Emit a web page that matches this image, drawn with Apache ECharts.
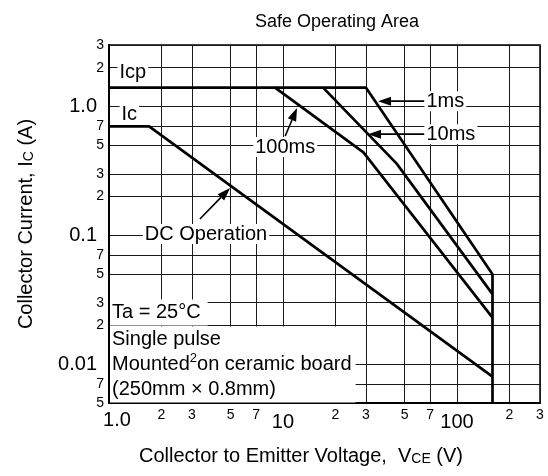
<!DOCTYPE html>
<html>
<head>
<meta charset="utf-8">
<script src="https://cdn.jsdelivr.net/npm/echarts@6/dist/echarts.min.js"></script>
<style>html,body{margin:0;padding:0;background:#fff}#main{width:548px;height:476px}</style>
</head>
<body>
<div id="main"></div>
<script>
// ---- data ----
const xTickValues = [1, 2, 3, 5, 7, 10, 20, 30, 50, 70, 100, 200, 300];
const xTickLabels = ['1.0', '2', '3', '5', '7', '10', '2', '3', '5', '7', '100', '2', '3'];
const yTickValues = [0.005, 0.007, 0.01, 0.02, 0.03, 0.05, 0.07, 0.1, 0.2, 0.3, 0.5, 0.7, 1, 2, 3];
const yTickLabels = ['5', '7', '0.01', '2', '3', '5', '7', '0.1', '2', '3', '5', '7', '1.0', '2', '3'];

const dcVce = [1, 1.7, 160];
const dcIc = [0.7, 0.7, 0.008];
const ms1Vce = [1, 30, 160, 160];
const ms1Ic = [1.4, 1.4, 0.05, 0.005];
const ms10Vce = [17, 45, 160];
const ms10Ic = [1.4, 0.36, 0.035];
const ms100Vce = [9, 29, 160];
const ms100Ic = [1.4, 0.44, 0.023];

const FONT = '"Liberation Sans", Arial, sans-serif';

function pairs(xs, ys) { return xs.map((x, k) => [x, ys[k]]); }
function lookup(vals, labels, v) {
  for (let k = 0; k < vals.length; k++) {
    if (Math.abs(Math.log10(v) - Math.log10(vals[k])) < 1e-6) return labels[k];
  }
  return '';
}

const chart = echarts.init(document.getElementById('main'), null, {renderer: 'canvas'});

function lineSeries(name, xs, ys) {
  return {
    name: name, type: 'line', data: pairs(xs, ys), showSymbol: false, symbol: 'none',
    lineStyle: {color: '#000', width: 2.7}, z: 5, silent: true
  };
}

const option = {
  animation: false,
  backgroundColor: '#fff',
  textStyle: {fontFamily: FONT},
  title: {
    text: 'Safe Operating Area', left: 250, top: 8,
    textStyle: {fontSize: 18, fontWeight: 'normal', color: '#000', fontFamily: FONT}
  },
  grid: {left: 109, top: 45, right: 8, bottom: 73, show: true, borderColor: '#000', borderWidth: 1.5,
         containLabel: false, outerBoundsMode: 'none'},
  xAxis: {
    type: 'log', logBase: 10, min: 1, max: 300,
    name: 'Collector to Emitter Voltage,  V{sub|CE} (V)',
    nameLocation: 'middle', nameGap: 43,
    nameTextStyle: {fontSize: 20, color: '#000', fontFamily: FONT, padding: [0, 47, 0, 0],
      rich: {sub: {fontSize: 14, fontFamily: FONT, color: '#000', verticalAlign: 'bottom'}}},
    axisLine: {show: true, lineStyle: {color: '#000', width: 2}},
    axisTick: {show: false, customValues: xTickValues},
    splitLine: {show: true, lineStyle: {color: '#1a1a1a', width: 1}},
    minorTick: {show: false}, minorSplitLine: {show: false},
    axisLabel: {
      customValues: xTickValues, margin: 5, color: '#000',
      formatter: function (v) {
        const t = lookup(xTickValues, xTickLabels, v);
        if (t === '1.0') return '{first|' + t + '}';
        return t.length > 1 ? '{big|' + t + '}' : '{small|' + t + '}';
      },
      rich: {
        first: {fontSize: 20, fontFamily: FONT, color: '#000', padding: [2, 0, 0, 16]},
        big: {fontSize: 20, fontFamily: FONT, color: '#000', padding: [4, 0, 0, 0]},
        small: {fontSize: 14, fontFamily: FONT, color: '#000', padding: [0, 0, 8, 0]}
      }
    }
  },
  yAxis: {
    type: 'log', logBase: 10, min: 0.005, max: 3,
    name: 'Collector Current, I{sub|C} (A)',
    nameLocation: 'middle', nameGap: 73,
    nameTextStyle: {fontSize: 20, color: '#000', fontFamily: FONT,
      rich: {sub: {fontSize: 14, fontFamily: FONT, color: '#000', verticalAlign: 'bottom'}}},
    axisLine: {show: true, lineStyle: {color: '#000', width: 2}},
    axisTick: {show: false, customValues: yTickValues},
    splitLine: {show: true, lineStyle: {color: '#1a1a1a', width: 1}},
    minorTick: {show: false}, minorSplitLine: {show: false},
    axisLabel: {
      customValues: yTickValues, margin: 5, color: '#000',
      formatter: function (v) {
        const t = lookup(yTickValues, yTickLabels, v);
        return t.length > 1 ? '{big|' + t + '}' : '{small|' + t + '}';
      },
      rich: {
        big: {fontSize: 20, fontFamily: FONT, color: '#000', padding: [0, 7, 0, 0]},
        small: {fontSize: 14, fontFamily: FONT, color: '#000'}
      }
    }
  },
  series: [
    lineSeries('DC Operation', dcVce, dcIc),
    lineSeries('1ms', ms1Vce, ms1Ic),
    lineSeries('10ms', ms10Vce, ms10Ic),
    lineSeries('100ms', ms100Vce, ms100Ic)
  ]
};
chart.setOption(option);

// ---- annotations (anchored in data space) ----
function px(v, i) { return chart.convertToPixel({gridIndex: 0}, [v, i]); }
const annotations = [
  {text: 'Icp', at: [1.12, 1.82], align: 'left'},
  {text: 'Ic', at: [1.15, 0.86], align: 'left'},
  {text: '100ms', at: [10.3, 0.484], align: 'center', from: [10.3, 0.59], to: [12.04, 0.972]},
  {text: '1ms', at: [65, 1.10], align: 'left', from: [65, 1.10], to: [35.2, 1.10]},
  {text: '10ms', at: [65, 0.61], align: 'left', from: [65, 0.61], to: [30.8, 0.61]},
  {text: 'DC Operation', at: [3.61, 0.1023], align: 'center', from: [3.33, 0.1338], to: [4.96, 0.2326]}
];
const g = [];
annotations.forEach(function (a) {
  if (a.from) {
    const p1 = px(a.from[0], a.from[1]);
    const p2 = px(a.to[0], a.to[1]);
    const dx = p2[0] - p1[0], dy = p2[1] - p1[1];
    const L = Math.sqrt(dx * dx + dy * dy);
    const ux = dx / L, uy = dy / L;
    const hl = 13, hw = 4.5;
    const bx = p2[0] - ux * hl, by = p2[1] - uy * hl;
    g.push({type: 'line', z: 100, silent: true,
      shape: {x1: p1[0], y1: p1[1], x2: bx, y2: by}, style: {stroke: '#000', lineWidth: 1.6}});
    g.push({type: 'polygon', z: 100, silent: true,
      shape: {points: [[p2[0], p2[1]], [bx - uy * hw, by + ux * hw], [bx + uy * hw, by - ux * hw]]},
      style: {fill: '#000'}});
  }
  const p = px(a.at[0], a.at[1]);
  g.push({type: 'text', z: 101, silent: true, x: p[0], y: p[1],
    style: {text: a.text, fontSize: 20, fontFamily: FONT, fill: '#000',
      align: a.align, textAlign: a.align, verticalAlign: 'middle', textVerticalAlign: 'middle',
      backgroundColor: '#fff', padding: [0, 2, 0, 2]}});
});
// condition notes, anchored to the 0.02 A grid line
const n0 = px(1, 0.02);
g.push({type: 'text', z: 101, silent: true, x: n0[0] + 1, y: n0[1],
  style: {text: 'Ta = 25°C', fontSize: 20, fontFamily: FONT, fill: '#000', lineHeight: 22,
    align: 'left', textAlign: 'left', verticalAlign: 'bottom', textVerticalAlign: 'bottom',
    backgroundColor: '#fff', padding: [2, 7, 2, 2]}});
g.push({type: 'text', z: 101, silent: true, x: n0[0] + 1, y: n0[1] + 1,
  style: {text: 'Single pulse\nMounted{sup|2}on ceramic board\n(250mm × 0.8mm)',
    fontSize: 20, fontFamily: FONT, fill: '#000', lineHeight: 25,
    rich: {sup: {fontSize: 13, fontFamily: FONT, fill: '#000', color: '#000', verticalAlign: 'top', lineHeight: 25}},
    align: 'left', textAlign: 'left', verticalAlign: 'top', textVerticalAlign: 'top',
    backgroundColor: '#fff', padding: [1, 4, 0, 2]}});
chart.setOption({graphic: {elements: g}});
</script>
</body>
</html>
